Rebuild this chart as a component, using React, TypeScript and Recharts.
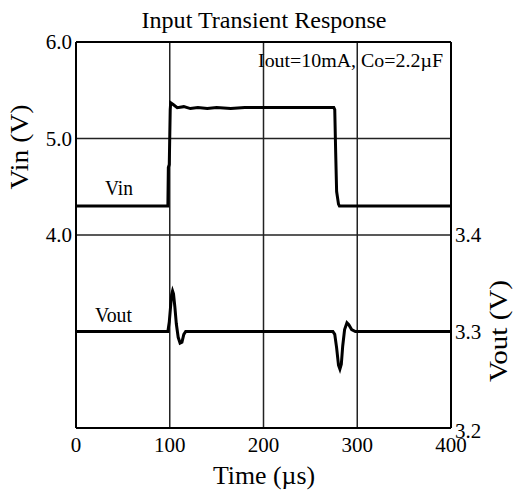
import {
  ComposedChart,
  Line,
  ReferenceLine,
  XAxis,
  YAxis,
} from "recharts";

// time axis (µs) and tick labels
const timeTicks = [0, 100, 200, 300, 400];
const vinTicks = [4, 5, 6];
const voutTicks = [3.2, 3.3, 3.4];
const gridTimes = [100, 200, 300];
const gridVin = [4, 5];

// Vin trace: [time µs, volts]
const vinTrace: [number, number][] = [
  [0, 4.3], [60, 4.3], [98, 4.3], [98.5, 4.7], [99.5, 4.73], [100.5, 5.3],
  [101, 5.37], [104, 5.35], [108, 5.32], [115, 5.33], [122, 5.31],
  [130, 5.32], [140, 5.31], [150, 5.32], [165, 5.31], [180, 5.32],
  [200, 5.32], [230, 5.32], [260, 5.32], [275, 5.32], [276, 5.3],
  [277, 4.85], [278, 4.45], [280, 4.32], [281, 4.3], [320, 4.3], [400, 4.3],
];

// Vout trace: [time µs, volts]
const voutTrace: [number, number][] = [
  [0, 3.3], [50, 3.3], [98, 3.3], [99.5, 3.31], [101, 3.327],
  [102, 3.338], [103, 3.342], [104, 3.339], [105.5, 3.325], [107, 3.308],
  [109, 3.294], [111, 3.288], [113, 3.289], [115, 3.297], [117, 3.3],
  [150, 3.3], [200, 3.3], [250, 3.3], [274, 3.3], [276, 3.297],
  [278, 3.283], [280, 3.265], [281.5, 3.261], [283, 3.266], [284.5, 3.285],
  [286.5, 3.302], [289, 3.309], [291, 3.307], [294, 3.302], [298, 3.3],
  [350, 3.3], [400, 3.3],
];

const vinData = vinTrace.map(([t, v]) => ({ t, v }));
const voutData = voutTrace.map(([t, v]) => ({ t, v }));

const FONT = "Liberation Serif, Tinos, Times New Roman, Times, serif";
const txt = { fontFamily: FONT };

function XTick({ x, y, payload }: any) {
  return (
    <text x={x} y={y + 24} textAnchor="middle" style={txt} fontSize={21} fill="#000">
      {payload.value}
    </text>
  );
}

function LeftTick({ x, y, payload }: any) {
  return (
    <text x={x - 4} y={y + 7} textAnchor="end" style={txt} fontSize={21} fill="#000">
      {payload.value.toFixed(1)}
    </text>
  );
}

function RightTick({ x, y, payload }: any) {
  const dy = payload.value === 3.2 ? 10 : 7;
  return (
    <text x={x + 4} y={y + dy} textAnchor="start" style={txt} fontSize={21} fill="#000">
      {payload.value.toFixed(1)}
    </text>
  );
}

export default function App() {
  return (
    <div style={{ position: "absolute", left: 0, top: 0, width: 514, height: 495, background: "#fff" }}>
      <ComposedChart
        width={514}
        height={495}
        margin={{ top: 42, right: 0, bottom: 0, left: 0 }}
      >
        <XAxis
          xAxisId="t"
          type="number"
          dataKey="t"
          domain={[0, 400]}
          ticks={timeTicks}
          height={67}
          tickSize={0}
          tickMargin={0}
          tick={<XTick />}
          axisLine={{ stroke: "#000", strokeWidth: 2 }}
          allowDataOverflow
        />
        <YAxis
          yAxisId="vin"
          type="number"
          domain={[2, 6]}
          ticks={vinTicks}
          width={76}
          tickSize={0}
          tickMargin={0}
          tick={<LeftTick />}
          axisLine={{ stroke: "#000", strokeWidth: 2 }}
          allowDataOverflow
        />
        <YAxis
          yAxisId="vout"
          orientation="right"
          type="number"
          domain={[3.2, 3.6]}
          ticks={voutTicks}
          width={63}
          tickSize={0}
          tickMargin={0}
          tick={<RightTick />}
          axisLine={{ stroke: "#000", strokeWidth: 2 }}
          allowDataOverflow
        />
        {gridTimes.map((t) => (
          <ReferenceLine key={t} xAxisId="t" yAxisId="vin" x={t} stroke="#222" strokeWidth={1.5} />
        ))}
        {gridVin.map((v) => (
          <ReferenceLine key={v} xAxisId="t" yAxisId="vin" y={v} stroke="#222" strokeWidth={1.5} />
        ))}
        <ReferenceLine xAxisId="t" yAxisId="vin" y={6} stroke="#000" strokeWidth={2} />
        <Line
          xAxisId="t"
          yAxisId="vin"
          data={vinData}
          dataKey="v"
          type="linear"
          stroke="#000"
          strokeWidth={3}
          dot={false}
          isAnimationActive={false}
        />
        <Line
          xAxisId="t"
          yAxisId="vout"
          data={voutData}
          dataKey="v"
          type="linear"
          stroke="#000"
          strokeWidth={3}
          dot={false}
          isAnimationActive={false}
        />
      </ComposedChart>
      <svg
        width={514}
        height={495}
        style={{ position: "absolute", left: 0, top: 0, pointerEvents: "none", fontFamily: FONT }}
        fill="#000"
      >
        <text x={264} y={28} textAnchor="middle" fontSize={23} textLength={245} lengthAdjust="spacingAndGlyphs">
          Input Transient Response
        </text>
        <text x={258} y={67} fontSize={19} textLength={185} lengthAdjust="spacingAndGlyphs">
          Iout=10mA, Co=2.2µF
        </text>
        <text x={105} y={195} fontSize={22} textLength={28} lengthAdjust="spacingAndGlyphs">
          Vin
        </text>
        <text x={95} y={322} fontSize={22} textLength={37} lengthAdjust="spacingAndGlyphs">
          Vout
        </text>
        <text x={264} y={484} textAnchor="middle" fontSize={25} textLength={102} lengthAdjust="spacingAndGlyphs">
          Time (µs)
        </text>
        <text
          x={28}
          y={147}
          textAnchor="middle"
          fontSize={26}
          textLength={85}
          lengthAdjust="spacingAndGlyphs"
          transform="rotate(-90, 28, 147)"
        >
          Vin (V)
        </text>
        <text
          x={507}
          y={331}
          textAnchor="middle"
          fontSize={26}
          textLength={102}
          lengthAdjust="spacingAndGlyphs"
          transform="rotate(-90, 507, 331)"
        >
          Vout (V)
        </text>
      </svg>
    </div>
  );
}
